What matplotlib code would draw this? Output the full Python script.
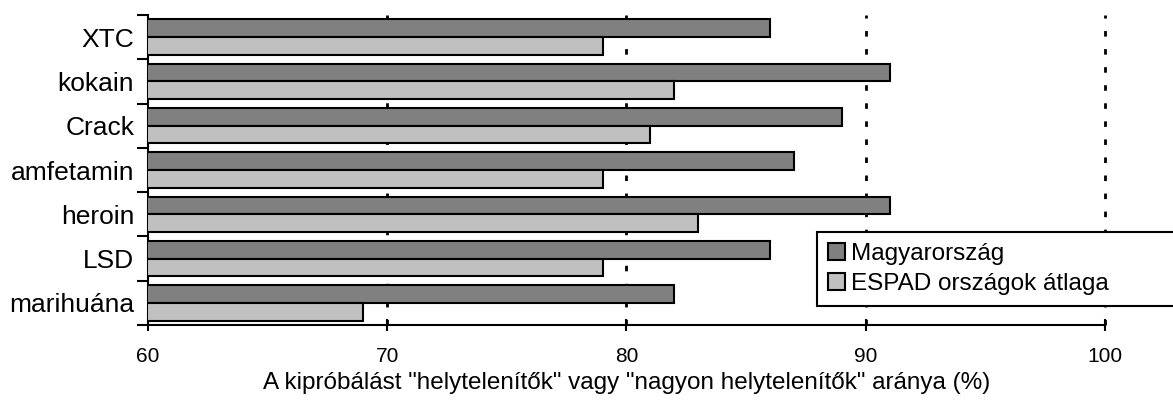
import numpy as np
import matplotlib.pyplot as plt
from matplotlib.patches import Patch

plt.rcParams["font.family"] = ["Liberation Sans", "DejaVu Sans"]

kategoriak = ["XTC", "kokain", "Crack", "amfetamin", "heroin", "LSD", "marihuána"]
magyar = [86, 91, 89, 87, 91, 86, 82]
espad = [79, 82, 81, 79, 83, 79, 69]
sorozatok = ["Magyarország", "ESPAD országok átlaga"]
xtick_ertekek = [60, 70, 80, 90, 100]

fig = plt.figure(figsize=(11.73, 4.03), dpi=100)
ax = fig.add_axes([0.1262, 0.1935, 0.8158, 0.7693])

y = np.arange(len(kategoriak))[::-1]
h = 0.4
ax.barh(y + h / 2, magyar, height=h, left=0, color="#808080", edgecolor="black", linewidth=1.5, zorder=3)
ax.barh(y - h / 2, espad, height=h, left=0, color="#c0c0c0", edgecolor="black", linewidth=1.5, zorder=3)

ax.set_xlim(60, 100)
ax.set_ylim(-0.5, len(kategoriak) - 0.5)

ax.set_xticks(xtick_ertekek)
ax.set_xticklabels([str(v) for v in xtick_ertekek], fontsize=15)
ax.tick_params(axis="x", direction="inout", length=8, width=1.5, pad=12)

ax.set_yticks(y)
ax.set_yticklabels(kategoriak, fontsize=19)
ax.set_yticks(np.arange(len(kategoriak) + 1) - 0.5, minor=True)
ax.tick_params(axis="y", which="major", length=0, pad=10)
ax.tick_params(axis="y", which="minor", direction="out", length=8, width=1.5)

for s in ["top", "right"]:
    ax.spines[s].set_visible(False)
for s in ["left", "bottom"]:
    ax.spines[s].set_linewidth(1.5)

for v in xtick_ertekek[1:]:
    ax.axvline(v, color="black", linestyle=(0, (2, 4.5)), linewidth=2, zorder=1, clip_on=False)

ax.set_xlabel('A kipróbálást "helytelenítők" vagy "nagyon helytelenítők" aránya (%)',
              fontsize=17.5, labelpad=4)

kezelok = [Patch(facecolor="#808080", edgecolor="black", linewidth=1.5),
           Patch(facecolor="#c0c0c0", edgecolor="black", linewidth=1.5)]
leg = fig.legend(kezelok, sorozatok, loc="upper left",
                 bbox_to_anchor=(817 / 1173, 1 - 236 / 403, 380 / 1173, 0.01),
                 mode="expand", fontsize=17.5,
                 fancybox=False, framealpha=1, edgecolor="black",
                 handlelength=0.7, handleheight=0.7, handletextpad=0.25,
                 borderpad=0.45, labelspacing=0.35, borderaxespad=0)
leg.get_frame().set_linewidth(1.5)

fig.savefig("out.png", dpi=100)
